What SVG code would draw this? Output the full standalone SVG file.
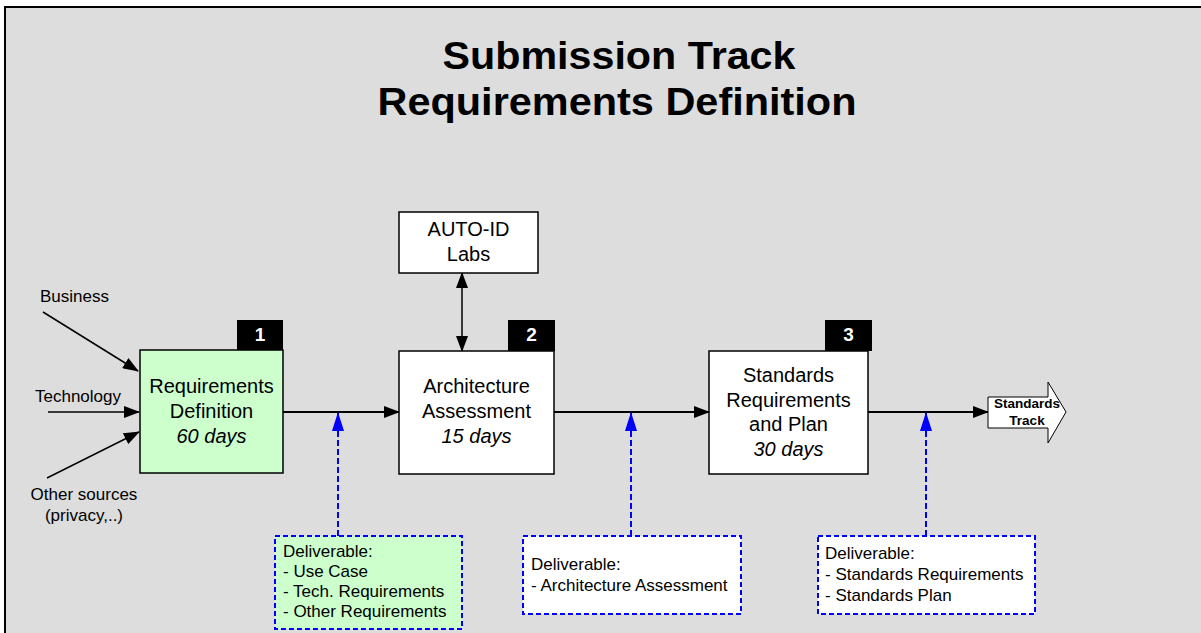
<svg xmlns="http://www.w3.org/2000/svg" width="1201" height="633" viewBox="0 0 1201 633">
<style>
text { font-family: "Liberation Sans", Arial, sans-serif; fill: #000; }
.title { font-size: 38px; font-weight: bold; text-anchor: middle; }
.node { fill: #ffffff; stroke: #000; stroke-width: 1.5; }
.green { fill: #ccffcc; }
.nt { font-size: 20px; text-anchor: middle; }
.it { font-style: italic; }
.lbl { font-size: 17px; }
.badge { fill: #000; }
.bt { font-size: 19px; font-weight: bold; fill: #fff; text-anchor: middle; }
.del { stroke: #0000ff; stroke-width: 2; stroke-dasharray: 5 3; }
.dt { font-size: 17px; }
.conn { stroke: #000; stroke-width: 2; fill: none; }
.thin { stroke-width: 1.5; }
.bconn { stroke: #0000ff; stroke-width: 2; stroke-dasharray: 6 3; fill: none; }
</style>
<defs>
<marker id="ah" markerWidth="16" markerHeight="12" refX="15" refY="6" orient="auto" markerUnits="userSpaceOnUse">
<path d="M0,0 L16,6 L0,12 Z" fill="#000"/>
</marker>
<marker id="ahs" markerWidth="16" markerHeight="12" refX="1" refY="6" orient="auto" markerUnits="userSpaceOnUse">
<path d="M16,0 L0,6 L16,12 Z" fill="#000"/>
</marker>
<marker id="bh" markerWidth="19" markerHeight="12" refX="18" refY="6" orient="auto" markerUnits="userSpaceOnUse">
<path d="M0,0 L19,6 L0,12 Z" fill="#0000ff"/>
</marker>
</defs>
<rect x="0" y="0" width="1201" height="633" fill="#ffffff"/>
<rect x="5" y="7" width="1210" height="640" fill="#dddddd" stroke="#000" stroke-width="2"/>

<g id="title">
<text class="title" x="619" y="69" textLength="353" lengthAdjust="spacingAndGlyphs">Submission Track</text>
<text class="title" x="617" y="115" textLength="479" lengthAdjust="spacingAndGlyphs">Requirements Definition</text>
</g>

<g id="connectors">
<line class="conn thin" x1="43" y1="312" x2="138" y2="371" marker-end="url(#ah)"/>
<line class="conn thin" x1="48" y1="412" x2="139" y2="412" marker-end="url(#ah)"/>
<line class="conn thin" x1="47" y1="478" x2="139" y2="432" marker-end="url(#ah)"/>
<line class="conn" x1="283" y1="412" x2="399" y2="412" marker-end="url(#ah)"/>
<line class="conn" x1="554" y1="412" x2="709" y2="412" marker-end="url(#ah)"/>
<line class="conn" x1="868" y1="412" x2="988" y2="412" marker-end="url(#ah)"/>
<line class="conn thin" x1="462" y1="273" x2="462" y2="351" marker-start="url(#ahs)" marker-end="url(#ah)"/>
<line class="bconn" x1="338" y1="536" x2="338" y2="413" marker-end="url(#bh)"/>
<line class="bconn" x1="631" y1="536" x2="631" y2="413" marker-end="url(#bh)"/>
<line class="bconn" x1="926" y1="536" x2="926" y2="413" marker-end="url(#bh)"/>
</g>

<g id="input-business"><text class="lbl" x="40" y="302">Business</text></g>
<g id="input-technology"><text class="lbl" x="35" y="402">Technology</text></g>
<g id="input-other">
<text class="lbl" x="84" y="500" text-anchor="middle">Other sources</text>
<text class="lbl" x="84" y="521" text-anchor="middle">(privacy,..)</text>
</g>

<g id="node-1">
<rect class="node green" x="140" y="350" width="143" height="123"/>
<rect class="badge" x="237" y="320" width="46" height="30"/>
<text class="bt" x="260" y="341">1</text>
<text class="nt" x="211.5" y="393">Requirements</text>
<text class="nt" x="211.5" y="418">Definition</text>
<text class="nt it" x="211.5" y="443">60 days</text>
</g>

<g id="node-2">
<rect class="node" x="399" y="351" width="155" height="123"/>
<rect class="badge" x="508" y="320" width="47" height="31"/>
<text class="bt" x="531.5" y="341">2</text>
<text class="nt" x="476.5" y="393">Architecture</text>
<text class="nt" x="476.5" y="418">Assessment</text>
<text class="nt it" x="476.5" y="443">15 days</text>
</g>

<g id="node-3">
<rect class="node" x="709" y="351" width="159" height="123"/>
<rect class="badge" x="825" y="320" width="47" height="31"/>
<text class="bt" x="848.5" y="341">3</text>
<text class="nt" x="788.5" y="382">Standards</text>
<text class="nt" x="788.5" y="406.5">Requirements</text>
<text class="nt" x="788.5" y="431">and Plan</text>
<text class="nt it" x="788.5" y="455.5">30 days</text>
</g>

<g id="auto-id">
<rect class="node" x="399" y="212" width="139" height="61"/>
<text class="nt" x="468.5" y="236">AUTO-ID</text>
<text class="nt" x="468.5" y="261">Labs</text>
</g>

<g id="standards-track">
<polygon points="988,397 1048,397 1048,382 1066,412 1048,443 1048,428 988,428" fill="#ffffff" stroke="#000" stroke-width="1"/>
<text x="1027" y="408" font-size="13.5" font-weight="bold" text-anchor="middle">Standards</text>
<text x="1027" y="425" font-size="13.5" font-weight="bold" text-anchor="middle">Track</text>
</g>

<g id="deliverable-1">
<rect class="del" x="275" y="536" width="187" height="93" fill="#ccffcc"/>
<text class="dt" x="283" y="557">Deliverable:</text>
<text class="dt" x="283" y="577">- Use Case</text>
<text class="dt" x="283" y="597">- Tech. Requirements</text>
<text class="dt" x="283" y="617">- Other Requirements</text>
</g>

<g id="deliverable-2">
<rect class="del" x="523" y="536" width="218" height="78" fill="#ffffff"/>
<text class="dt" x="531" y="570">Deliverable:</text>
<text class="dt" x="531" y="591">- Architecture Assessment</text>
</g>

<g id="deliverable-3">
<rect class="del" x="818" y="536" width="217" height="78" fill="#ffffff"/>
<text class="dt" x="825" y="559">Deliverable:</text>
<text class="dt" x="825" y="580">- Standards Requirements</text>
<text class="dt" x="825" y="601">- Standards Plan</text>
</g>
</svg>
